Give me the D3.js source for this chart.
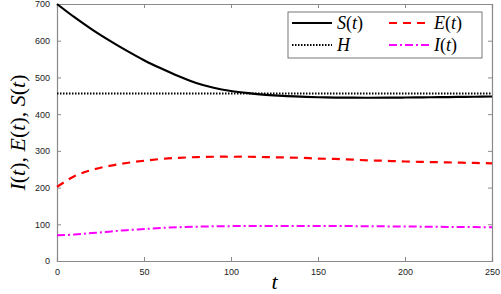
<!DOCTYPE html>
<html>
<head>
<meta charset="utf-8">
<script src="https://cdn.jsdelivr.net/npm/d3@7"></script>
<style>
  body { margin: 0; background: #fff; }
  .tick text { font-family: "Liberation Sans", Arial, sans-serif; font-size: 9px; fill: #222; }
  .math { font-family: "Liberation Serif", "DejaVu Serif", serif; }
</style>
</head>
<body>
<svg id="chart"></svg>
<script>
// values
let tS = [0, 10, 20, 30, 40, 50, 60, 70, 80, 90, 100, 110, 120, 130, 140, 150, 160, 170, 180, 190, 200, 210, 220, 230, 240, 250];
let sVals = [700, 664, 631, 601, 573, 547, 524, 503, 485, 472, 463, 457, 452.5, 449.5, 447.5, 446, 445.2, 444.8, 444.7, 444.9, 445.3, 445.8, 446.3, 446.9, 447.4, 448];
let eVals = [202, 231, 248, 259, 267, 273, 278, 281, 283, 284, 284, 284, 283, 282, 281, 279, 278, 276, 274, 273, 271, 270, 269, 268, 267, 266];
let iVals = [70, 72, 76, 80, 84, 87, 90, 92, 93.5, 94.5, 95, 95.5, 95.5, 95.5, 95.5, 95.5, 95.3, 95, 94.7, 94.3, 94, 93.5, 93, 92.7, 92.3, 92];
let hValue = 456;
let xTicks = [0, 50, 100, 150, 200, 250];
let yTicks = [0, 100, 200, 300, 400, 500, 600, 700];

let width = 501, height = 294;
let margin = {top: 4, right: 9, bottom: 33, left: 57};
let w = width - margin.left - margin.right;
let h = height - margin.top - margin.bottom;

let svg = d3.select("#chart")
    .attr("width", width)
    .attr("height", height);

let g = svg.append("g")
    .attr("transform", "translate(" + margin.left + "," + margin.top + ")");

let x = d3.scaleLinear().domain([0, 250]).range([0, w]);
let y = d3.scaleLinear().domain([0, 700]).range([h, 0]);

let axisColor = "#8a8a8a";

// axes, ticks pointing inwards
let xAxis = g.append("g")
    .attr("transform", "translate(0," + h + ")")
    .call(d3.axisBottom(x).tickValues(xTicks).tickSize(-4).tickPadding(8));
let yAxis = g.append("g")
    .call(d3.axisLeft(y).tickValues(yTicks).tickSize(-4).tickPadding(7));
let xTop = g.append("g")
    .call(d3.axisTop(x).tickValues(xTicks).tickSize(-4).tickFormat(""));
let yRight = g.append("g")
    .attr("transform", "translate(" + w + ",0)")
    .call(d3.axisRight(y).tickValues(yTicks).tickSize(-4).tickFormat(""));

[xAxis, yAxis, xTop, yRight].forEach(function(a) {
    a.select(".domain").attr("stroke", axisColor).attr("stroke-width", 1.2);
    a.selectAll(".tick line").attr("stroke", axisColor);
});

let data = tS.map(function(t, i) {
    return {t: t, s: sVals[i], e: eVals[i], i: iVals[i]};
});

let curve = d3.curveCatmullRom.alpha(0.5);

// H line
g.append("line")
    .attr("x1", x(0)).attr("x2", x(250))
    .attr("y1", y(hValue)).attr("y2", y(hValue))
    .attr("stroke", "#000")
    .attr("stroke-width", 2)
    .attr("stroke-dasharray", "1.5,1.5");

g.append("path")
    .datum(data)
    .attr("fill", "none")
    .attr("stroke", "#000")
    .attr("stroke-width", 2.2)
    .attr("d", d3.line().x(d => x(d.t)).y(d => y(d.s)).curve(curve));

g.append("path")
    .datum(data)
    .attr("fill", "none")
    .attr("stroke", "#ff0000")
    .attr("stroke-width", 2.2)
    .attr("stroke-dasharray", "8,6")
    .attr("d", d3.line().x(d => x(d.t)).y(d => y(d.e)).curve(curve));

g.append("path")
    .datum(data)
    .attr("fill", "none")
    .attr("stroke", "#ff00ff")
    .attr("stroke-width", 2)
    .attr("stroke-dasharray", "8,3,2,3")
    .attr("d", d3.line().x(d => x(d.t)).y(d => y(d.i)).curve(curve));

// math-like text: italic letters, upright brackets
function mathText(sel, parts) {
    parts.forEach(function(p) {
        sel.append("tspan")
            .attr("font-style", p[1] ? "italic" : "normal")
            .text(p[0]);
    });
}

// axis labels
let xl = svg.append("text")
    .attr("class", "math")
    .attr("x", margin.left + w / 2)
    .attr("y", 289)
    .attr("text-anchor", "middle")
    .style("font-size", "22px");
mathText(xl, [["t", true]]);

let yl = svg.append("text")
    .attr("class", "math")
    .attr("transform", "translate(25," + (margin.top + h / 2) + ") rotate(-90)")
    .attr("text-anchor", "middle")
    .style("font-size", "22px");
mathText(yl, [["I", true], ["(", false], ["t", true], ["), ", false], ["E", true], ["(", false],
    ["t", true], ["), ", false], ["S", true], ["(", false], ["t", true], [")", false]]);

// legend
let legend = svg.append("g").attr("transform", "translate(288,12)");
legend.append("rect")
    .attr("width", 194).attr("height", 46)
    .attr("fill", "#fff")
    .attr("stroke", "#555")
    .attr("stroke-width", 0.8);

let items = [
    {col: 0, row: 0, color: "#000", dash: null, sw: 2.2, label: [["S", true], ["(", false], ["t", true], [")", false]]},
    {col: 1, row: 0, color: "#ff0000", dash: "8,6", sw: 2.2, label: [["E", true], ["(", false], ["t", true], [")", false]]},
    {col: 0, row: 1, color: "#000", dash: "1.5,1.5", sw: 2, label: [["H", true]]},
    {col: 1, row: 1, color: "#ff00ff", dash: "8,3,2,3", sw: 2, label: [["I", true], ["(", false], ["t", true], [")", false]]}
];

items.forEach(function(it) {
    let lx = 4 + it.col * 97;
    let ly = 11 + it.row * 22;
    legend.append("line")
        .attr("x1", lx).attr("x2", lx + 40)
        .attr("y1", ly).attr("y2", ly)
        .attr("stroke", it.color)
        .attr("stroke-width", it.sw)
        .attr("stroke-dasharray", it.dash);
    let t = legend.append("text")
        .attr("class", "math")
        .attr("x", lx + 45)
        .attr("y", ly + 6)
        .style("font-size", "18px");
    mathText(t, it.label);
});
</script>
</body>
</html>
